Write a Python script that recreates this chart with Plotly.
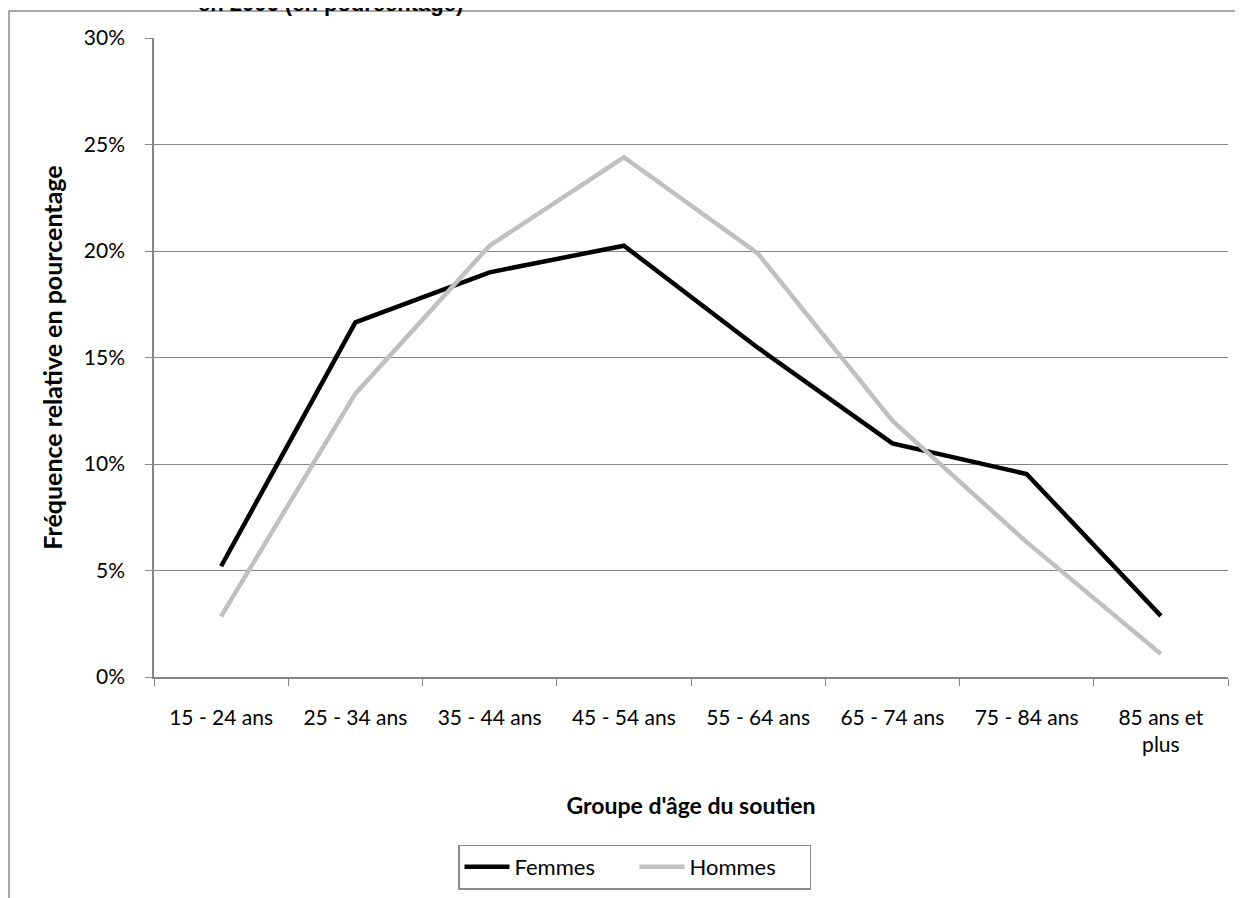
import plotly.graph_objects as go

categories = ["15 - 24 ans", "25 - 34 ans", "35 - 44 ans", "45 - 54 ans",
              "55 - 64 ans", "65 - 74 ans", "75 - 84 ans", "85 ans et<br>plus"]
femmes = [5.2, 16.65, 19.0, 20.25, 15.45, 10.97, 9.53, 2.87]
hommes = [2.85, 13.3, 20.25, 24.4, 19.87, 12.03, 6.33, 1.08]

femmes_frac = [v / 100 for v in femmes]
hommes_frac = [v / 100 for v in hommes]

FONT = "Lato"
AXIS_GREY = "#868686"

fig = go.Figure()
fig.add_trace(go.Scatter(x=categories, y=femmes_frac, name="Femmes", mode="lines",
                         line=dict(color="#000000", width=4.5)))
fig.add_trace(go.Scatter(x=categories, y=hommes_frac, name="Hommes", mode="lines",
                         line=dict(color="#C0C0C0", width=4.5)))

OFF = 8  # page body margin
W, H = 1243, 898
# desired screen positions of plot area: left 154, right 1228, top 38, bottom 677
L = 154 - OFF
T = 38 - OFF
R = W + OFF - 1228
B = H + OFF - 677
pw, ph = W - L - R, H - T - B

def sx(px):  # screen px -> paper x
    return (px - OFF - L) / pw

def sy(py):  # screen py -> paper y
    return (H - B - (py - OFF)) / ph

fig.update_layout(
    width=W, height=H,
    margin=dict(l=L, r=R, t=T, b=B, pad=0, autoexpand=False),
    paper_bgcolor="white", plot_bgcolor="white",
    font=dict(family=FONT, size=21, color="#000000"),
    showlegend=True,
    legend=dict(orientation="h",
                x=sx(458), y=sy(867),
                xanchor="left", yanchor="middle",
                bordercolor="#8c8c8c", borderwidth=1.5,
                itemwidth=45,
                entrywidth=115, entrywidthmode="pixels",
                font=dict(family=FONT, size=22, color="#000000"),
                bgcolor="white"),
    xaxis=dict(
        type="category",
        range=[-0.5, len(categories) - 0.5],
        tickson="boundaries",
        ticks="outside", ticklen=7, tickcolor=AXIS_GREY, tickwidth=1,
        showline=True, linecolor=AXIS_GREY, linewidth=1.5,
        showgrid=False, zeroline=False,
        ticklabelstandoff=21,
        tickfont=dict(family=FONT, size=21),
        title=dict(text="<b>Groupe d'âge du soutien</b>", standoff=43,
                   font=dict(family=FONT, size=23)),
    ),
    yaxis=dict(
        range=[0, 0.30], dtick=0.05, tickformat=".0%",
        ticks="outside", ticklen=7, tickcolor=AXIS_GREY, tickwidth=1,
        showline=True, linecolor=AXIS_GREY, linewidth=1.5,
        showgrid=True, gridcolor=AXIS_GREY, gridwidth=1.2,
        zeroline=False,
        ticklabelstandoff=16,
        tickfont=dict(family=FONT, size=21),
        title=dict(text="<b>Fréquence relative en pourcentage</b>", standoff=14,
                   font=dict(family=FONT, size=25)),
    ),
    shapes=[dict(type="rect", xref="paper", yref="paper",
                 x0=sx(9), x1=sx(1300),
                 y0=sy(1000), y1=sy(11),
                 line=dict(color="#8c8c8c", width=1.5), fillcolor="rgba(0,0,0,0)",
                 layer="below")],
    annotations=[dict(text="<b>en 2006 (en pourcentage)</b>", xref="paper", yref="paper",
                      x=sx(330), y=sy(3),
                      xanchor="center", yanchor="middle", showarrow=False,
                      font=dict(family="Liberation Sans", size=22, color="#000000"))],
)

fig.write_html("out.html")
